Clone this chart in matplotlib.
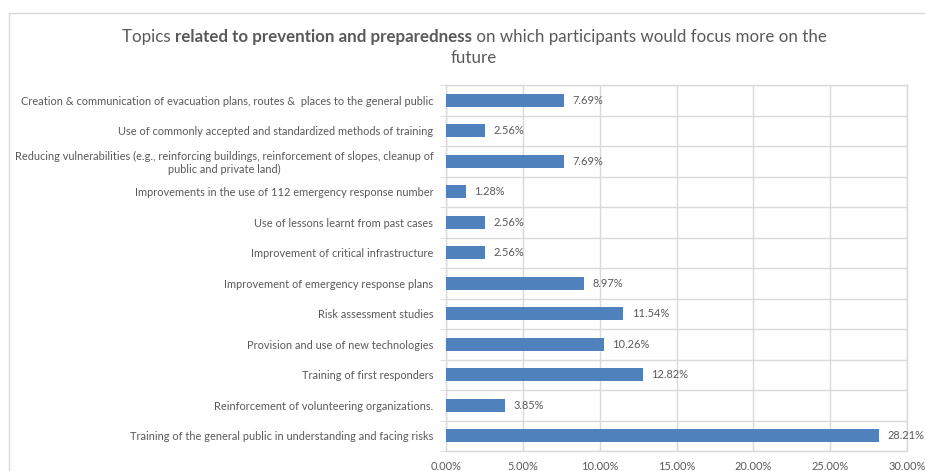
import matplotlib
matplotlib.use("Agg")
import matplotlib.pyplot as plt
from matplotlib.patches import Rectangle

# survey answers, listed top to bottom
topics = [
    "Creation & communication of evacuation plans, routes &  places to the general public",
    "Use of commonly accepted and standardized methods of training",
    "Reducing vulnerabilities (e.g., reinforcing buildings, reinforcement of slopes, cleanup of\npublic and private land)",
    "Improvements in the use of 112 emergency response number",
    "Use of lessons learnt from past cases",
    "Improvement of critical infrastructure",
    "Improvement of emergency response plans",
    "Risk assessment studies",
    "Provision and use of new technologies",
    "Training of first responders",
    "Reinforcement of volunteering organizations.",
    "Training of the general public in understanding and facing risks",
]
shares = [7.69, 2.56, 7.69, 1.28, 2.56, 2.56, 8.97, 11.54, 10.26, 12.82, 3.85, 28.21]
xticks = [0, 5, 10, 15, 20, 25, 30]

FONT = "Lato"
TEXT = "#595959"
GRID = "#d9d9d9"
BAR = "#4f81bd"

W, H = 925, 471
fig = plt.figure(figsize=(W / 100, H / 100), dpi=100)
fig.patch.set_facecolor("white")

# outer chart frame (runs off the right and bottom edges)
fig.add_artist(Rectangle((9 / W, -0.2), 1.2, 1.2 - 13 / H, transform=fig.transFigure,
                         fill=False, edgecolor=GRID, lw=1.0, clip_on=False))

ax = fig.add_axes([446 / W, 1 - 451 / H, (907 - 446) / W, (451 - 85) / H])
n = len(topics)
ypos = list(range(n))
ax.barh(ypos, shares, height=0.42, color=BAR, zorder=3)
for y, v in zip(ypos, shares):
    ax.text(v + 0.55, y, f"{v:.2f}%", va="center", ha="left",
            fontsize=7.9, color=TEXT, family=FONT)

ax.set_xlim(0, 30)
ax.set_ylim(n - 0.5, -0.5)
ax.set_xticks(xticks)
ax.set_xticklabels([f"{t:.2f}%" for t in xticks], fontsize=7.9, color=TEXT, family=FONT)
ax.set_yticks(ypos)
ax.set_yticklabels(topics, fontsize=7.9, color=TEXT, family=FONT)
for lbl in ax.get_yticklabels():
    lbl.set_multialignment("center")

# gridlines: vertical at each tick, horizontal between categories
ax.set_yticks([i - 0.5 for i in range(n + 1)], minor=True)
ax.grid(axis="x", color=GRID, lw=1.0, zorder=0)
ax.grid(axis="y", which="minor", color=GRID, lw=1.0, zorder=0)
ax.tick_params(axis="y", which="major", length=0, pad=9)
ax.tick_params(axis="y", which="minor", length=4, color=GRID)
ax.tick_params(axis="x", length=0, pad=7)
for side in ax.spines.values():
    side.set_color(GRID)
    side.set_linewidth(1.0)

# title with a bold middle section
parts = [("Topics ", "normal"),
         ("related to prevention and preparedness", "bold"),
         (" on which participants would focus more on the", "normal")]
renderer = fig.canvas.get_renderer()
tsize = 12.2
artists = []
for s, w in parts:
    t = fig.text(0, 1 - 37 / H, s, fontsize=tsize, color=TEXT, family=FONT,
                 weight=w, va="center", ha="left")
    artists.append(t)
widths = [a.get_window_extent(renderer).width for a in artists]
x = 474 - sum(widths) / 2
for a, wd in zip(artists, widths):
    a.set_x(x / W)
    x += wd
fig.text(474 / W, 1 - 58 / H, "future", fontsize=tsize, color=TEXT, family=FONT,
         va="center", ha="center")

fig.savefig("out.png", dpi=100, facecolor="white")
